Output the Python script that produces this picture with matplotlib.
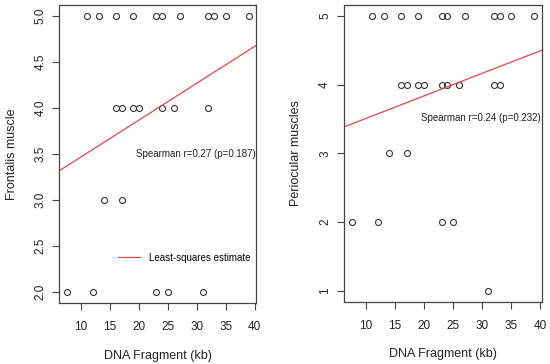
import matplotlib
matplotlib.use("Agg")
import matplotlib.pyplot as plt
import numpy as np
from matplotlib.lines import Line2D

plt.rcParams['font.family'] = ['Liberation Sans', 'DejaVu Sans']

# Left panel: Frontalis muscle
x_front = [11, 13, 16, 19, 23, 24, 27, 32, 33, 35, 39,
           16, 17, 19, 20, 24, 26, 32,
           14, 17,
           7.5, 12, 23, 25, 31]
y_front = [5]*11 + [4]*7 + [3]*2 + [2]*5
front_intercept, front_slope = 3.068, 0.0401

# Right panel: Periocular muscles
x_peri = [11, 13, 16, 19, 23, 24, 27, 32, 33, 35, 39,
          16, 17, 19, 20, 23, 24, 26, 32, 33,
          14, 17,
          7.5, 12, 23, 25,
          31]
y_peri = [5]*11 + [4]*9 + [3]*2 + [2]*4 + [1]
peri_intercept, peri_slope = 3.183, 0.0328

x_ticks = [10, 15, 20, 25, 30, 35, 40]
front_yticks = [2.0, 2.5, 3.0, 3.5, 4.0, 4.5, 5.0]
peri_yticks = [1, 2, 3, 4, 5]

fig = plt.figure(figsize=(5.5, 3.64), dpi=100)
ax1 = fig.add_axes([0.108, 0.168, 0.358, 0.818])
ax2 = fig.add_axes([0.626, 0.171, 0.359, 0.815])

frame = '#444444'
red = '#e8474a'

def style(ax, ylim, yticks, fmt):
    ax.set_xlim(6.24, 40.26)
    ax.set_ylim(*ylim)
    ax.set_xticks(x_ticks)
    ax.set_yticks(yticks)
    ax.set_yticklabels([fmt(v) for v in yticks], rotation=90, va='center')
    ax.tick_params(direction='out', length=5, width=0.8, colors=frame,
                   labelsize=8.5, labelcolor='#222222')
    ax.tick_params(axis='x', pad=8)
    ax.tick_params(axis='y', pad=4.5)
    for s in ax.spines.values():
        s.set_color(frame)
        s.set_linewidth(0.9)
    ax.set_xlabel('DNA Fragment (kb)', fontsize=9, color='#222222', labelpad=12)

for ax, xs, ys, b, m in [(ax1, x_front, y_front, front_intercept, front_slope),
                         (ax2, x_peri, y_peri, peri_intercept, peri_slope)]:
    ax.plot(xs, ys, linestyle='none', marker='o', markersize=4.3,
            markerfacecolor='none', markeredgecolor='#333333', markeredgewidth=0.8)
    ax.axline((0, b), slope=m, color=red, linewidth=0.9)

style(ax1, (1.88, 5.12), front_yticks, lambda v: f'{v:.1f}')
style(ax2, (0.84, 5.16), peri_yticks, lambda v: f'{v:d}')
ax1.set_ylabel('Frontalis muscle', fontsize=9, color='#222222', labelpad=12)
ax2.set_ylabel('Periocular muscles', fontsize=9, color='#222222', labelpad=12)

ax1.text(40.1, 3.50, 'Spearman r=0.27 (p=0.187)', fontsize=7, ha='right',
         va='center', color='#222222')
ax2.text(40.1, 3.51, 'Spearman r=0.24 (p=0.232)', fontsize=7, ha='right',
         va='center', color='#222222')

handle = Line2D([], [], color=red, linewidth=0.9)
ax1.legend([handle], ['Least-squares estimate'], frameon=False, fontsize=7,
           loc='center left', bbox_to_anchor=(0.28, 0.151), handlelength=2.2,
           handletextpad=0.9, borderaxespad=0)

fig.savefig('out.png', dpi=100)
